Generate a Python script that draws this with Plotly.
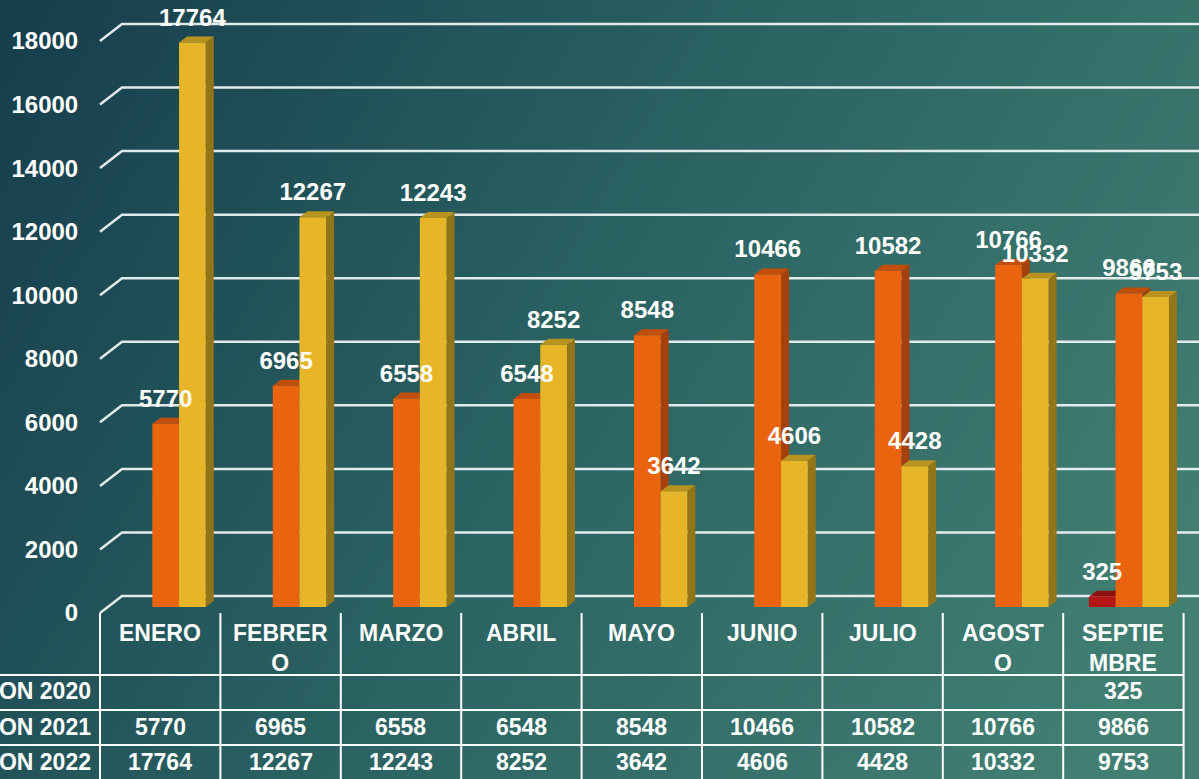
import plotly.graph_objects as go

# ---------------- data ----------------
months = ["ENERO", "FEBRERO", "MARZO", "ABRIL", "MAYO", "JUNIO", "JULIO", "AGOSTO", "SEPTIEMBRE"]
header_labels = ["ENERO", "FEBRER<br>O", "MARZO", "ABRIL", "MAYO", "JUNIO", "JULIO", "AGOST<br>O", "SEPTIE<br>MBRE"]
series_names = ["ATENCION 2020", "ATENCION 2021", "ATENCION 2022"]
s2020 = [None, None, None, None, None, None, None, None, 325]
s2021 = [5770, 6965, 6558, 6548, 8548, 10466, 10582, 10766, 9866]
s2022 = [17764, 12267, 12243, 8252, 3642, 4606, 4428, 10332, 9753]
y_ticks = [0, 2000, 4000, 6000, 8000, 10000, 12000, 14000, 16000, 18000]

series = [s2020, s2021, s2022]
front_colors = ["#B31414", "#EA6410", "#E6B628"]
top_colors = ["#8C1111", "#C24E0C", "#B8931F"]
side_colors = ["#790E0E", "#A4410C", "#927519"]

# ---------------- geometry / style constants ----------------
FIG_W, FIG_H = 1199, 779
PX_PER_CAT = 120.4          # pixels per category
CAT0_PX = 160.2             # pixel centre of first category
PX_PER_UNIT = 572 / 18000   # pixels per value unit

DOM_X0_PX = 90
XR0 = (DOM_X0_PX - CAT0_PX) / PX_PER_CAT
XR1 = (FIG_W - CAT0_PX) / PX_PER_CAT
DOM_X = [DOM_X0_PX / FIG_W, 1.0]

ZERO_PX = 607
DOM_Y_BOTTOM_PX = 625
YR0 = (ZERO_PX - DOM_Y_BOTTOM_PX) / PX_PER_UNIT
YR1 = ZERO_PX / PX_PER_UNIT
DOM_Y = [1 - DOM_Y_BOTTOM_PX / FIG_H, 1.0]

BAR_W = 26.7 / PX_PER_CAT
GROUP_SHIFT = 5.5 / PX_PER_CAT
DX = 8 / PX_PER_CAT          # depth offset (x) of bars
DY = 6 / PX_PER_UNIT         # depth offset (y) of bars
FRONT_DY = 6 / PX_PER_UNIT   # front plane of the axis below bar plane
BACK_DY = 11 / PX_PER_UNIT   # back wall above bar plane
WALL_DX = 22 / PX_PER_CAT
LABEL_DY = 23 / PX_PER_UNIT

FONT = "Arial, Liberation Sans, sans-serif"


def xpaper(xv):
    return DOM_X[0] + (xv - XR0) / (XR1 - XR0) * (DOM_X[1] - DOM_X[0])


def ypaper_px(px):
    return 1 - px / FIG_H


fig = go.Figure()

# ---------------- background gradient ----------------
n = 40
zbg = []
for r in range(n):
    yf = r / (n - 1)  # 0 = bottom, 1 = top
    row = []
    for c in range(n):
        xf = c / (n - 1)
        row.append(min(1.0, 0.78 * xf + 0.3 * (1 - yf)))
    zbg.append(row)
fig.add_trace(go.Heatmap(
    z=zbg, x=[i / (n - 1) for i in range(n)], y=[i / (n - 1) for i in range(n)],
    colorscale=[[0, "#163d4c"], [0.5, "#2a6262"], [1, "#417f73"]],
    showscale=False, zsmooth="best", hoverinfo="skip", xaxis="x", yaxis="y",
))

# ---------------- grid lines (front stub + back wall) ----------------
gx, gy = [], []
x_front = -0.5
for t in y_ticks:
    gx += [x_front, x_front + WALL_DX, XR1 + 1, None]
    gy += [t - FRONT_DY, t + BACK_DY, t + BACK_DY, None]
fig.add_trace(go.Scatter(x=gx, y=gy, mode="lines",
                         line=dict(color="rgba(236,242,242,0.95)", width=2.5),
                         hoverinfo="skip", xaxis="x2", yaxis="y2", showlegend=False))

# ---------------- 3D faces (side + top) ----------------
offsets = [-BAR_W, 0.0, BAR_W]
for s, vals in enumerate(series):
    sx, sy, tx, ty = [], [], [], []
    for i, v in enumerate(vals):
        if v is None:
            continue
        c = i + GROUP_SHIFT + offsets[s]
        xl, xr = c - BAR_W / 2, c + BAR_W / 2
        sx += [xr, xr, xr + DX, xr + DX, xr, None]
        sy += [0, v, v + DY, DY, 0, None]
        tx += [xl, xr, xr + DX, xl + DX, xl, None]
        ty += [v, v, v + DY, v + DY, v, None]
    fig.add_trace(go.Scatter(x=sx, y=sy, mode="lines", fill="toself", fillcolor=side_colors[s],
                             line=dict(width=0, color=side_colors[s]), hoverinfo="skip",
                             xaxis="x2", yaxis="y2", showlegend=False))
    fig.add_trace(go.Scatter(x=tx, y=ty, mode="lines", fill="toself", fillcolor=top_colors[s],
                             line=dict(width=0, color=top_colors[s]), hoverinfo="skip",
                             xaxis="x2", yaxis="y2", showlegend=False))

# ---------------- front faces (bars) ----------------
for s, vals in enumerate(series):
    xs = [i + GROUP_SHIFT + offsets[s] for i in range(len(months))]
    fig.add_trace(go.Bar(x=xs, y=vals, width=BAR_W, marker=dict(color=front_colors[s], line=dict(width=0)),
                         name=series_names[s], xaxis="x3", yaxis="y3", showlegend=False,
                         hovertext=months))

# ---------------- data labels ----------------
for s, vals in enumerate(series):
    lx, ly, lt = [], [], []
    for i, v in enumerate(vals):
        if v is None:
            continue
        lx.append(i + GROUP_SHIFT + offsets[s])
        ly.append(v + LABEL_DY)
        lt.append(str(v))
    fig.add_trace(go.Scatter(x=lx, y=ly, text=lt, mode="text", textposition="middle center",
                             textfont=dict(family=FONT, size=24, color="white", weight="bold"),
                             cliponaxis=False, hoverinfo="skip", xaxis="x3", yaxis="y3", showlegend=False))

# ---------------- data table ----------------
shapes = []
TABLE_TOP_PX = 613
ROW_LINES_PX = [675, 710, 745]
for i in range(len(months) + 1):
    xv = i - 0.5
    shapes.append(dict(type="line", xref="paper", yref="paper",
                       x0=xpaper(xv), x1=xpaper(xv), y0=ypaper_px(TABLE_TOP_PX), y1=0,
                       line=dict(color="white", width=2)))
for py in ROW_LINES_PX:
    shapes.append(dict(type="line", xref="paper", yref="paper",
                       x0=0, x1=xpaper(len(months) - 0.5), y0=ypaper_px(py), y1=ypaper_px(py),
                       line=dict(color="white", width=2)))

annotations = []
for i, lab in enumerate(header_labels):
    annotations.append(dict(x=xpaper(i), y=ypaper_px(618), xref="paper", yref="paper",
                            text=lab, showarrow=False, xanchor="center", yanchor="top",
                            font=dict(family=FONT, size=23, color="white", weight="bold")))
ROW_CENTERS_PX = [691, 727, 762]
for s, vals in enumerate(series):
    annotations.append(dict(x=93 / FIG_W, y=ypaper_px(ROW_CENTERS_PX[s]), xref="paper", yref="paper",
                            text=series_names[s], showarrow=False, xanchor="right", yanchor="middle",
                            font=dict(family=FONT, size=23, color="white", weight="bold")))
    for i, v in enumerate(vals):
        if v is None:
            continue
        annotations.append(dict(x=xpaper(i), y=ypaper_px(ROW_CENTERS_PX[s]), xref="paper", yref="paper",
                                text=str(v), showarrow=False, xanchor="center", yanchor="middle",
                                font=dict(family=FONT, size=23, color="white", weight="bold")))

hidden = dict(visible=False, showgrid=False, zeroline=False, fixedrange=True)
fig.update_layout(
    width=FIG_W, height=FIG_H,
    margin=dict(l=0, r=0, t=0, b=0),
    paper_bgcolor="#245a5e", plot_bgcolor="rgba(0,0,0,0)",
    barmode="overlay",
    showlegend=False,
    xaxis=dict(domain=[0, 1], range=[0, 1], **hidden),
    yaxis=dict(domain=[0, 1], range=[0, 1], **hidden),
    xaxis2=dict(domain=DOM_X, range=[XR0, XR1], anchor="y2", **hidden),
    yaxis2=dict(domain=DOM_Y, range=[YR0, YR1], anchor="x2", showgrid=False, zeroline=False,
                showline=False, tickmode="array", fixedrange=True,
                tickvals=[t - FRONT_DY for t in y_ticks], ticktext=[str(t) for t in y_ticks],
                ticks="outside", ticklen=6, tickcolor="rgba(0,0,0,0)",
                tickfont=dict(family=FONT, size=24, color="white", weight="bold")),
    xaxis3=dict(domain=DOM_X, range=[XR0, XR1], anchor="y3", **hidden),
    yaxis3=dict(domain=DOM_Y, range=[YR0, YR1], anchor="x3", **hidden),
    shapes=shapes,
    annotations=annotations,
)

fig.write_html(
    "out.html",
    config={"displayModeBar": False},
    post_script="document.body.style.margin='0';document.body.style.overflow='hidden';",
)
